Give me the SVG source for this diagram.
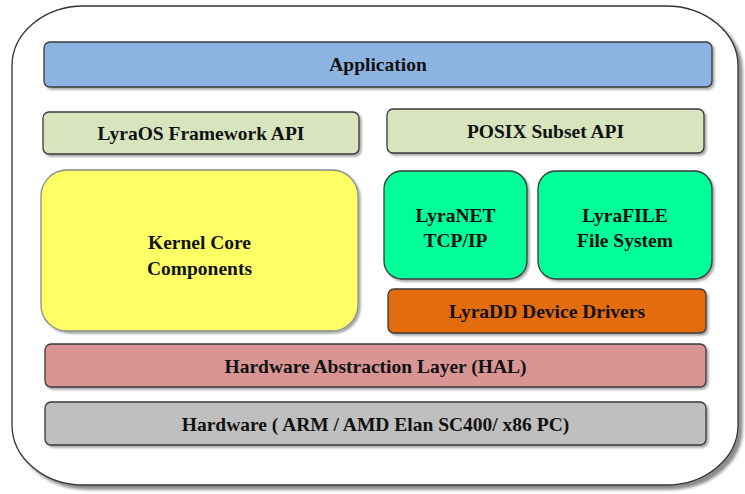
<svg xmlns="http://www.w3.org/2000/svg" width="745" height="494" viewBox="0 0 745 494">
  <defs>
    <filter id="shadow" x="-10%" y="-10%" width="130%" height="140%">
      <feDropShadow dx="2" dy="2" stdDeviation="1.2" flood-color="#000" flood-opacity="0.35"/>
    </filter>
    <filter id="shadowBig" x="-5%" y="-5%" width="115%" height="115%">
      <feDropShadow dx="4" dy="4" stdDeviation="1.5" flood-color="#000" flood-opacity="0.45"/>
    </filter>
  </defs>
  <style>
    .box { stroke: #3a3a3a; stroke-width: 1.3; filter: url(#shadow); }
    .lbl { font-family: "Liberation Serif", "Times New Roman", serif; font-weight: bold; font-size: 19.5px; fill: #111; text-anchor: middle; }
  </style>

  <!-- outer frame -->
  <g id="frame">
    <rect x="12" y="6" width="726" height="479" rx="72" ry="60" fill="#fff" stroke="#333" stroke-width="1.3" filter="url(#shadowBig)"/>
  </g>

  <g id="application">
    <rect class="box" x="44" y="42" width="668" height="45" rx="6" fill="#8DB3E2"/>
    <text class="lbl" x="378" y="71">Application</text>
  </g>

  <g id="framework-api">
    <rect class="box" x="43" y="112" width="316" height="42" rx="6" fill="#D7E4BD"/>
    <text class="lbl" x="201" y="139.5">LyraOS Framework API</text>
  </g>

  <g id="posix-api">
    <rect class="box" x="387" y="109" width="317" height="44" rx="6" fill="#D7E4BD"/>
    <text class="lbl" x="545.5" y="137.5">POSIX Subset API</text>
  </g>

  <g id="kernel-core">
    <rect x="41" y="170" width="317" height="161" rx="26" fill="#FFFF66" stroke="#8a8a8a" stroke-width="1.3" filter="url(#shadow)"/>
    <text class="lbl" x="199.5" y="248.5">Kernel Core</text>
    <text class="lbl" x="199.5" y="274.5">Components</text>
  </g>

  <g id="lyranet">
    <rect class="box" x="384" y="171" width="143" height="108" rx="18" fill="#00FF99"/>
    <text class="lbl" x="455.5" y="221.5">LyraNET</text>
    <text class="lbl" x="455.5" y="246.5">TCP/IP</text>
  </g>

  <g id="lyrafile">
    <rect class="box" x="538" y="171" width="174" height="108" rx="18" fill="#00FF99"/>
    <text class="lbl" x="625" y="221.5">LyraFILE</text>
    <text class="lbl" x="625" y="246.5">File System</text>
  </g>

  <g id="device-drivers">
    <rect class="box" x="388" y="289" width="318" height="44" rx="6" fill="#E46C0A"/>
    <text class="lbl" x="547" y="317.5">LyraDD Device Drivers</text>
  </g>

  <g id="hal">
    <rect class="box" x="45" y="344" width="661" height="43" rx="6" fill="#D99594"/>
    <text class="lbl" x="375.5" y="372.5">Hardware Abstraction Layer (HAL)</text>
  </g>

  <g id="hardware">
    <rect class="box" x="45" y="402" width="661" height="43" rx="6" fill="#BFBFBF"/>
    <text class="lbl" x="375.5" y="430.5">Hardware ( ARM / AMD Elan SC400/ x86 PC)</text>
  </g>

  <!-- layers are stacked, no connectors drawn -->
  <g id="connectors"></g>
</svg>
